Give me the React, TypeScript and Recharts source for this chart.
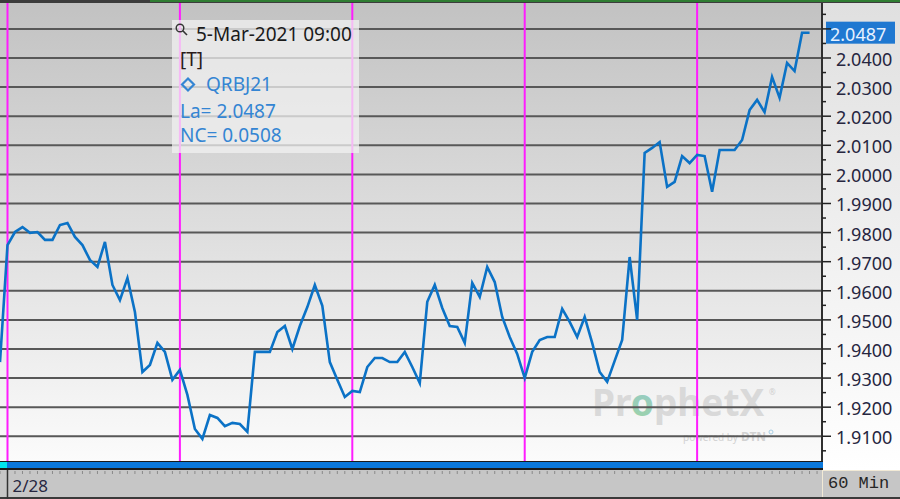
import React from "react"
import { LineChart, Line, XAxis, YAxis, ReferenceLine } from "recharts"

// hourly closes, QRBJ21 (60 min bars)
const prices = [
  1.9355, 1.9757, 1.9802, 1.9819, 1.9799, 1.9802, 1.9775, 1.9775, 1.9826, 1.9833,
  1.9785, 1.9757, 1.9706, 1.9682, 1.9768, 1.962, 1.9568, 1.9644, 1.9527, 1.9321,
  1.9345, 1.9421, 1.939, 1.9294, 1.9328, 1.9242, 1.9125, 1.9091, 1.9173, 1.9163,
  1.9135, 1.9146, 1.9142, 1.9115, 1.939, 1.939, 1.939, 1.9458, 1.9479, 1.94,
  1.9479, 1.9544, 1.962, 1.9548, 1.9355, 1.9294, 1.9235, 1.9256, 1.9252, 1.9338,
  1.9369, 1.9369, 1.9355, 1.9355, 1.939, 1.9338, 1.9283, 1.9562, 1.962, 1.9541,
  1.9479, 1.9476, 1.9421, 1.9627, 1.9579, 1.9682, 1.963, 1.951, 1.9441, 1.9383,
  1.93, 1.939, 1.9431, 1.9441, 1.9441, 1.9538, 1.9493, 1.9441, 1.951, 1.9421,
  1.9321, 1.9287, 1.9359, 1.9431, 1.9716, 1.95, 2.0074, 2.0091, 2.0111, 1.9957,
  1.9974, 2.0063, 2.0039, 2.0067, 2.0063, 1.994, 2.0084, 2.0084, 2.0084, 2.0118,
  2.0221, 2.0256, 2.0214, 2.0335, 2.0263, 2.0383, 2.0355, 2.0487, 2.0487,
]

// session breaks (bar index) and the date label shown on the time axis
const dayBreaks = [1, 24, 47, 70, 93]
const dayLabels = ["2/28"]

const majorTicks = [
  1.91, 1.92, 1.93, 1.94, 1.95, 1.96, 1.97, 1.98, 1.99, 2.0, 2.01, 2.02, 2.03, 2.04, 2.05,
]
const minorTicks = [
  1.905, 1.915, 1.925, 1.935, 1.945, 1.955, 1.965, 1.975, 1.985, 1.995, 2.005, 2.015,
  2.025, 2.035, 2.045, 2.055,
]

const symbol = "QRBJ21"
const stamp = "5-Mar-2021 09:00"
const lastPrice = 2.0487
const netChange = 0.0508
const period = "60 Min"

const data = prices.map((p, i) => ({ bar: i, price: p }))
const barTicks = [...data.map((d) => d.bar), data.length]
const yTicks = [...majorTicks, ...minorTicks].sort((a, b) => a - b)

const FONT = '"Noto Sans", "Open Sans", sans-serif'
const BLUE_TEXT = "#3485d3"

const isMajor = (v: number) => majorTicks.some((m) => Math.abs(m - v) < 1e-6)

const PriceTick = (props: any) => {
  const { x, y, payload } = props
  const v = payload.value
  const major = isMajor(v)
  const showLabel = major && Math.abs(v - 2.05) > 1e-6
  return (
    <g>
      <line x1={x} x2={x + (major ? 9 : 4)} y1={y} y2={y} stroke="#222" strokeWidth={1.5} />
      {showLabel && (
        <text x={x + 14} y={y + 8} fontSize={18} fontFamily={FONT} fill="#262640">
          {v.toFixed(4)}
        </text>
      )}
    </g>
  )
}

const TimeTick = (props: any) => {
  const { x, payload } = props
  const idx = dayBreaks.indexOf(payload.value)
  return (
    <g>
      <line x1={x} x2={x} y1={471} y2={474} stroke="#8a8a8a" strokeWidth={1} />
      {idx === 0 && (
        <>
          <line x1={x} x2={x} y1={470} y2={499} stroke="#333" strokeWidth={1.5} />
          <text x={x + 5} y={492} fontSize={17} fontFamily={FONT} fill="#262640">
            {dayLabels[0]}
          </text>
        </>
      )}
    </g>
  )
}

const LastTag = (props: any) => {
  const { viewBox } = props
  if (!viewBox) return null
  const x = viewBox.x + viewBox.width
  const y = viewBox.y
  return (
    <g>
      <rect x={x + 4} y={y - 11} width={69} height={22} fill="#1f78d1" />
      <text x={x + 8} y={y + 8} fontSize={18} fontFamily={FONT} fill="#e6f1ff">
        {lastPrice.toFixed(4)}
      </text>
    </g>
  )
}

export default function App() {
  return (
    <div
      style={{
        position: "absolute",
        left: 0,
        top: 0,
        width: 900,
        height: 499,
        overflow: "hidden",
        background: "#c6c6c6",
        fontFamily: FONT,
      }}
    >
      {/* plot + price axis backgrounds */}
      <div style={{ position: "absolute", left: 0, top: 3, width: 822, height: 458, background: "linear-gradient(#c2c2c2, #fbfbfb)" }} />
      <div style={{ position: "absolute", left: 822, top: 3, width: 78, height: 467, background: "linear-gradient(#e0e0e0, #ffffff)" }} />
      <div style={{ position: "absolute", left: 0, top: 0, width: 900, height: 3, background: "#3c3c3c" }} />
      <div style={{ position: "absolute", left: 150, top: 0, width: 750, height: 2, background: "#2f7d32" }} />

      {/* time scroller */}
      <div style={{ position: "absolute", left: 0, top: 461, width: 823, height: 9, boxSizing: "border-box", background: "#0a78dc", borderTop: "1px solid #1a1a1a", borderBottom: "2px solid #1a1a1a" }} />
      <div style={{ position: "absolute", left: 0, top: 462, width: 7, height: 6, background: "#00e5ee" }} />
      <div style={{ position: "absolute", left: 0, top: 497, width: 900, height: 2, background: "#3a3a3a" }} />

      {/* watermark */}
      <svg width={900} height={499} style={{ position: "absolute", left: 0, top: 0 }}>
        <defs>
          <linearGradient id="wmO" x1="0" y1="1" x2="1" y2="0">
            <stop offset="0%" stopColor="#9fd69a" />
            <stop offset="100%" stopColor="#8fc2ea" />
          </linearGradient>
        </defs>
        <text x={592} y={416} fontSize={37} fontWeight={700} fontFamily={FONT} fill="#d9d9d9">
          Pr<tspan fill="url(#wmO)">o</tspan>phetX
        </text>
        <text x={769} y={395} fontSize={8} fontFamily={FONT} fill="#d0d0d0">®</text>
        <text x={683} y={441} fontSize={10} fontFamily={FONT} fill="#d2d2d2">powered by</text>
        <text x={741} y={441} fontSize={12} fontWeight={700} fontFamily={FONT} fill="#d2d2d2">DTN</text>
        <circle cx={771} cy={432} r={2} fill="none" stroke="#a8cfe6" strokeWidth={1} />
      </svg>

      <div style={{ position: "absolute", left: 0, top: 0 }}>
        <LineChart width={900} height={499} data={data} margin={{ top: 3, right: 0, bottom: 0, left: 0 }}>
          <XAxis
            dataKey="bar"
            type="number"
            domain={[0, 109.66]}
            allowDataOverflow
            ticks={barTicks}
            interval={0}
            height={38}
            axisLine={false}
            tickLine={false}
            tickSize={0}
            tickMargin={0}
            tick={<TimeTick />}
          />
          <YAxis
            orientation="right"
            width={78}
            type="number"
            domain={[1.9015, 2.0589]}
            allowDataOverflow
            ticks={yTicks}
            interval={0}
            tickLine={false}
            tickSize={0}
            tickMargin={0}
            axisLine={{ stroke: "#303030", strokeWidth: 2 }}
            tick={<PriceTick />}
          />
          {majorTicks.map((v) => (
            <ReferenceLine key={"g" + v} y={v} stroke="#585858" strokeWidth={2} />
          ))}
          {dayBreaks.map((b) => (
            <ReferenceLine key={"d" + b} x={b} stroke="#ff1cff" strokeWidth={2} />
          ))}
          <ReferenceLine y={lastPrice} strokeOpacity={0} label={<LastTag />} />
          <Line
            type="linear"
            dataKey="price"
            stroke="#0b72c6"
            strokeWidth={2.6}
            dot={false}
            isAnimationActive={false}
          />
        </LineChart>
      </div>

      {/* period box */}
      <div style={{ position: "absolute", left: 822, top: 470, width: 78, height: 27, boxSizing: "border-box", borderLeft: "1px solid #f2ead6", borderTop: "1px solid #f2ead6", background: "#c6c6c6" }}>
        <span style={{ position: "absolute", left: 5, top: 3, fontFamily: '"Liberation Mono", "DejaVu Sans Mono", monospace', fontSize: 17, color: "#262626" }}>
          {period}
        </span>
      </div>

      {/* data window */}
      <svg width={900} height={499} style={{ position: "absolute", left: 0, top: 0, pointerEvents: "none" }}>
        <rect x={172} y={20} width={187} height={133} fill="#f2f2f2" fillOpacity={0.74} />
        <circle cx={180} cy={28} r={3.8} fill="none" stroke="#333" strokeWidth={1.4} />
        <line x1={182.8} y1={30.8} x2={187} y2={35} stroke="#333" strokeWidth={1.6} />
        <text x={196} y={41} fontSize={19} fontFamily={FONT} fill="#1a1a1a">{stamp}</text>
        <text x={180} y={66} fontSize={19} fontFamily={FONT} fill="#2a1a1a">[T]</text>
        <polygon points="188,78.5 194,84.5 188,90.5 182,84.5" fill="none" stroke={BLUE_TEXT} strokeWidth={2.2} />
        <text x={206} y={91} fontSize={19} fontFamily={FONT} fill={BLUE_TEXT}>{symbol}</text>
        <text x={180} y={118} fontSize={19} fontFamily={FONT} fill={BLUE_TEXT}>{"La= " + lastPrice.toFixed(4)}</text>
        <text x={180} y={142} fontSize={19} fontFamily={FONT} fill={BLUE_TEXT}>{"NC= " + netChange.toFixed(4)}</text>
      </svg>
    </div>
  )
}
